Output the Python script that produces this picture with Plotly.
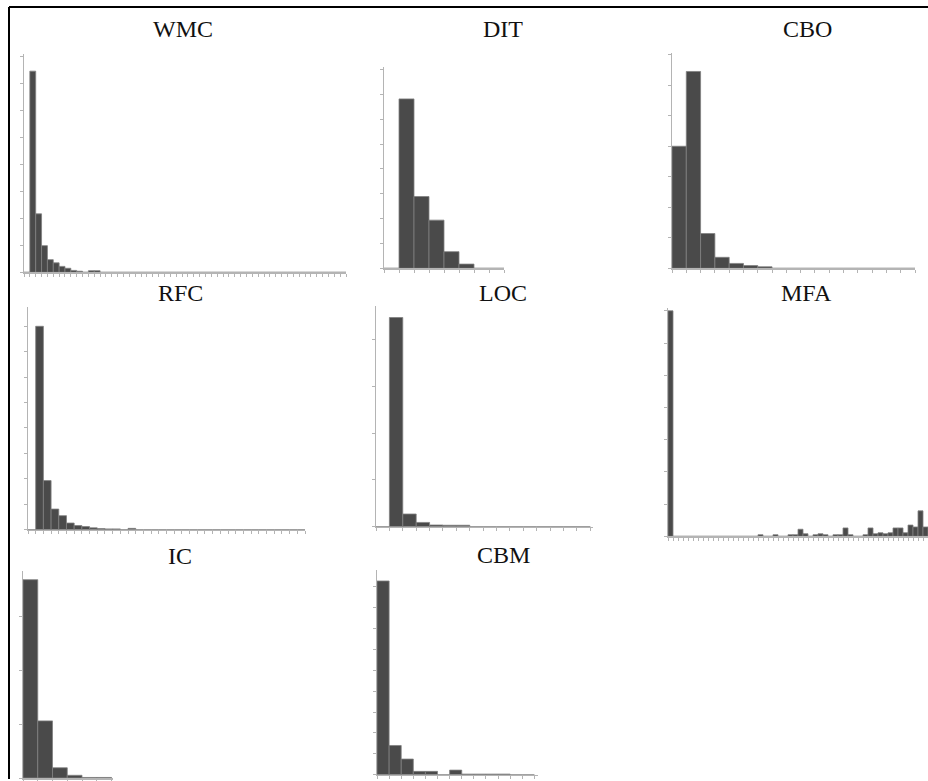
import plotly.graph_objects as go

PAGE_OFF = 0  # body margin removed below
W, H = 928, 781

# ---- data (bin heights, in y-tick units) ----
wmc_vals = [0, 7.47, 2.17, 0.99, 0.47, 0.35, 0.22, 0.15, 0.07, 0.04, 0, 0.06, 0.06] + [0] * 42
dit_vals = [0, 6.82, 2.89, 1.94, 0.67, 0.17, 0, 0]
cbo_vals = [4.0, 6.45, 1.14, 0.36, 0.16, 0.09, 0.05] + [0] * 10
rfc_vals = [0, 8.0, 1.93, 0.81, 0.55, 0.26, 0.16, 0.12, 0.07, 0.04, 0.03, 0.03, 0, 0.05] + [0] * 22
loc_vals = [0, 4.47, 0.27, 0.09, 0.035, 0.03, 0.03] + [0] * 9
mfa_vals = [7.0] + [0] * 17 + [0.05, 0, 0, 0.05, 0, 0, 0.05, 0.05, 0.22, 0.08, 0, 0.05, 0.08, 0.05,
                                0, 0.05, 0.05, 0.26, 0.05, 0, 0, 0.05, 0.26, 0.08, 0.11, 0.08, 0.11,
                                0.26, 0.26, 0.11, 0.35, 0.29, 0.79, 0.29]
ic_vals = [3.68, 1.06, 0.19, 0.05, 0.01, 0.01]
cbm_vals = [9.28, 1.4, 0.75, 0.16, 0.16, 0, 0.22, 0.03, 0.03, 0.03, 0.03, 0, 0]

titles = ["WMC", "DIT", "CBO", "RFC", "LOC", "MFA", "IC", "CBM"]
series = [wmc_vals, dit_vals, cbo_vals, rfc_vals, loc_vals, mfa_vals, ic_vals, cbm_vals]
y_ticks_max = [8, 8, 7, 8, 4, 7, 3, 9]
y_range_top = [8.1, 8.1, 7.05, 8.75, 4.72, 7.1, 3.85, 9.8]
x_range_end = [55, 8, 17, 36, 16.2, 52, 6.1, 13.3]

# ---- layout (screen pixel positions) ----
# (x_left, x_right, y_baseline, y_top, title_x, title_y)
panels = [
    (24, 346, 273, 54.3, 183, 29),
    (384, 504, 269, 67.3, 503, 29),
    (672, 915, 269, 53.3, 807, 29),
    (28, 305, 531, 308, 180, 294),
    (376, 593, 528, 306.6, 503, 294),
    (668, 928, 537.7, 308.4, 806, 294),
    (23, 113, 780, 572, 180, 557),
    (377, 538, 776.7, 571.6, 503, 556),
]

def px(x):
    return (x - PAGE_OFF) / W

def py(y):
    return 1 - (y - PAGE_OFF) / H

fig = go.Figure()
axis_col = "#b4b4b4"
annotations = []
for i, (title, vals) in enumerate(zip(titles, series)):
    n = i + 1
    xa = "x" if n == 1 else f"x{n}"
    ya = "y" if n == 1 else f"y{n}"
    fig.add_trace(go.Bar(
        x=[k + 0.5 for k in range(len(vals))],
        y=vals,
        width=1,
        xaxis=xa, yaxis=ya,
        marker=dict(color="#4a4a4a", line=dict(color="#808080", width=0.8)),
        showlegend=False, hoverinfo="skip",
    ))
    xl, xr, yb, yt, tx, ty = panels[i]
    key = "" if n == 1 else str(n)
    fig.layout["xaxis" + key] = dict(
        domain=[px(xl), min(px(xr), 1.0)], range=[0, x_range_end[i]], anchor=ya,
        showline=True, linecolor=axis_col, linewidth=1.5,
        ticks="outside", ticklen=3, tickwidth=1, tickcolor=axis_col,
        tick0=0, dtick=1, showticklabels=False, showgrid=False, zeroline=False,
        fixedrange=True,
    )
    fig.layout["yaxis" + key] = dict(
        domain=[max(py(yb), 0.0), py(yt)], range=[0, y_range_top[i]], anchor=xa,
        showline=True, linecolor=axis_col, linewidth=1.5,
        ticks="outside", ticklen=3, tickwidth=1, tickcolor=axis_col,
        tickvals=list(range(0, y_ticks_max[i] + 1)),
        showticklabels=False, showgrid=False, zeroline=False, fixedrange=True,
    )
    annotations.append(dict(
        text=title, x=px(tx), y=py(ty), xref="paper", yref="paper",
        xanchor="center", yanchor="middle", showarrow=False,
        font=dict(family="Liberation Serif", size=24, color="#111"),
    ))

# outer frame (left and top edges visible in the crop)
shapes = [
    dict(type="line", xref="paper", yref="paper", x0=px(9), x1=px(9), y0=0, y1=py(7),
         line=dict(color="black", width=2)),
    dict(type="line", xref="paper", yref="paper", x0=px(9), x1=1, y0=py(7), y1=py(7),
         line=dict(color="black", width=2)),
]

fig.update_layout(
    width=W, height=H,
    margin=dict(l=0, r=0, t=0, b=0),
    paper_bgcolor="white", plot_bgcolor="white",
    bargap=0, annotations=annotations, shapes=shapes,
)

fig.write_html(
    "out.html",
    config={"displayModeBar": False, "staticPlot": True},
    post_script="document.body.style.margin='0';document.body.style.overflow='hidden';",
)
